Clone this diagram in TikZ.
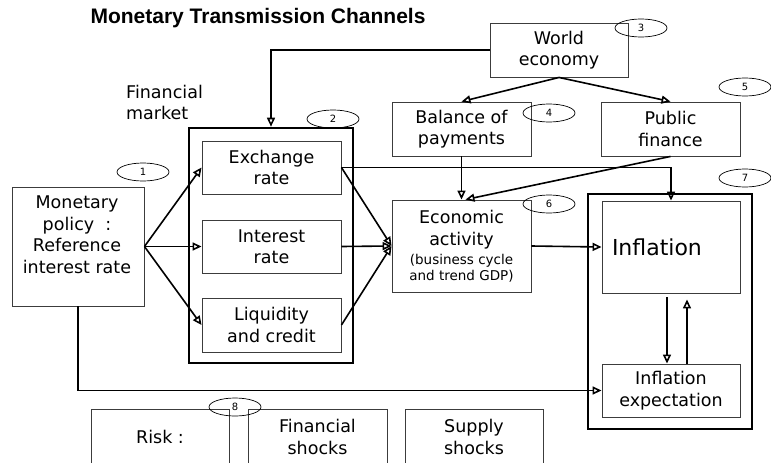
\documentclass[tikz,border=0pt]{standalone}
\usepackage{fontspec}
\setmainfont{DejaVu Sans}
\newfontfamily\titlefont{Liberation Sans}
\usetikzlibrary{shapes.geometric, arrows.meta, positioning}
\definecolor{boxgray}{RGB}{60, 60, 60}
\newcommand{\boxfont}{\fontsize{17.5}{21.5}\selectfont}
\newcommand{\notefont}{\fontsize{13.5}{15.5}\selectfont}

\begin{document}
\begin{tikzpicture}[x=1pt, y=-1pt,
  box/.style={draw=boxgray, line width=0.9pt, rectangle, inner sep=0pt, align=center, font=\boxfont},
  frame/.style={draw=black, line width=2.6pt, rectangle, inner sep=0pt},
  badge/.style={draw=black, ellipse, line width=0.7pt, minimum width=52pt, minimum height=18pt, inner sep=0pt, font=\fontsize{10}{12}\selectfont},
  link/.style={line width=1.6pt, -{Triangle[open, length=9pt, width=8pt]}}]

  \clip (0,0) rectangle (771,463);

  % Title
  \node[font=\titlefont\bfseries\fontsize{21}{25}\selectfont] (title) at (258,18) {Monetary Transmission Channels};

  % Outer frames
  \node[frame, minimum width=164pt, minimum height=235pt] (finframe) at (271,245.5) {};
  \node[frame, minimum width=164pt, minimum height=235pt] (infframe) at (670,311.5) {};
  \node[font=\boxfont, align=left, anchor=west, inner sep=0pt] (finlabel) at (126,102.5) {Financial\\market};

  % Policy box, text sits near the top
  \node[box, minimum width=132pt, minimum height=119pt] (policy) at (78,246.5) {};
  \node[font=\boxfont, align=center, anchor=north, inner sep=0pt] (policytxt) at (77,196) {Monetary\\policy~~:\\Reference\\interest rate};

  % Financial market channels
  \node[box, minimum width=139pt, minimum height=53pt] (exch) at (271.5,167.5) {Exchange\\rate};
  \node[box, minimum width=139pt, minimum height=53pt] (interest) at (271.5,246.5) {Interest\\rate};
  \node[box, minimum width=139pt, minimum height=54pt] (liquid) at (271.5,325) {Liquidity\\and credit};

  % External sector
  \node[box, minimum width=138pt, minimum height=54pt] (world) at (559,50) {World\\economy};
  \node[box, minimum width=139pt, minimum height=54pt] (balance) at (461.5,129) {Balance of\\payments};
  \node[box, minimum width=139pt, minimum height=54pt] (public) at (670.5,129) {Public\\finance};

  % Real economy and prices
  \node[box, minimum width=139pt, minimum height=92pt] (econ) at (461.5,246) {Economic\\activity\\[-2pt]\notefont(business cycle\\[-6pt]\notefont and trend GDP)};
  \node[box, minimum width=138pt, minimum height=92pt, text width=118pt, align=left, font=\fontsize{22}{26}\selectfont] (infl) at (671,247) {Inflation};
  \node[box, minimum width=138pt, minimum height=53pt] (expect) at (671,390.5) {Inflation\\expectation};

  % Risk row
  \node[box, minimum width=138pt, minimum height=56pt] (risk) at (160,437) {Risk~:};
  \node[box, minimum width=139pt, minimum height=56pt] (finshock) at (317.5,437) {Financial\\shocks};
  \node[box, minimum width=138pt, minimum height=56pt] (supply) at (474,437) {Supply\\shocks};

  % Connectors
  \draw[link] (policy.east) -- (exch.west);
  \draw[link] (policy.east) -- (interest.west);
  \draw[link] (policy.east) -- (liquid.west);
  \draw[link] (exch.east) -- (econ.west);
  \draw[link] (interest.east) -- (econ.west);
  \draw[link] (liquid.east) -- (econ.west);
  \draw[link] (exch.east) -| (infl.north);
  \draw[link] (world.west) -| (finframe.north);
  \draw[link] (world.south) -- (balance.north);
  \draw[link] (world.south) -- (public.north);
  \draw[link] (balance.south) -- (econ.north);
  \draw[link] (public.south) -- ([xshift=4pt]econ.north);
  \draw[link] (econ.east) -- (infl.west);
  \draw[link] ([xshift=-4pt, yshift=-4pt]infl.south) -- ([xshift=-4pt]expect.north);
  \draw[link] ([xshift=16pt]expect.north) -- ([xshift=16pt, yshift=-6pt]infl.south);
  \draw[link] (policy.south) |- (expect.west);

  % Numbered channels
  \node[badge] (n1) at (143,172) {1};
  \node[badge] (n2) at (333,119) {2};
  \node[badge] (n3) at (641,28) {3};
  \node[badge] (n4) at (549,113) {4};
  \node[badge] (n5) at (745,87) {5};
  \node[badge] (n6) at (549,204) {6};
  \node[badge] (n7) at (745,178) {7};
  \node[badge] (n8) at (235,407) {8};
\end{tikzpicture}
\end{document}
